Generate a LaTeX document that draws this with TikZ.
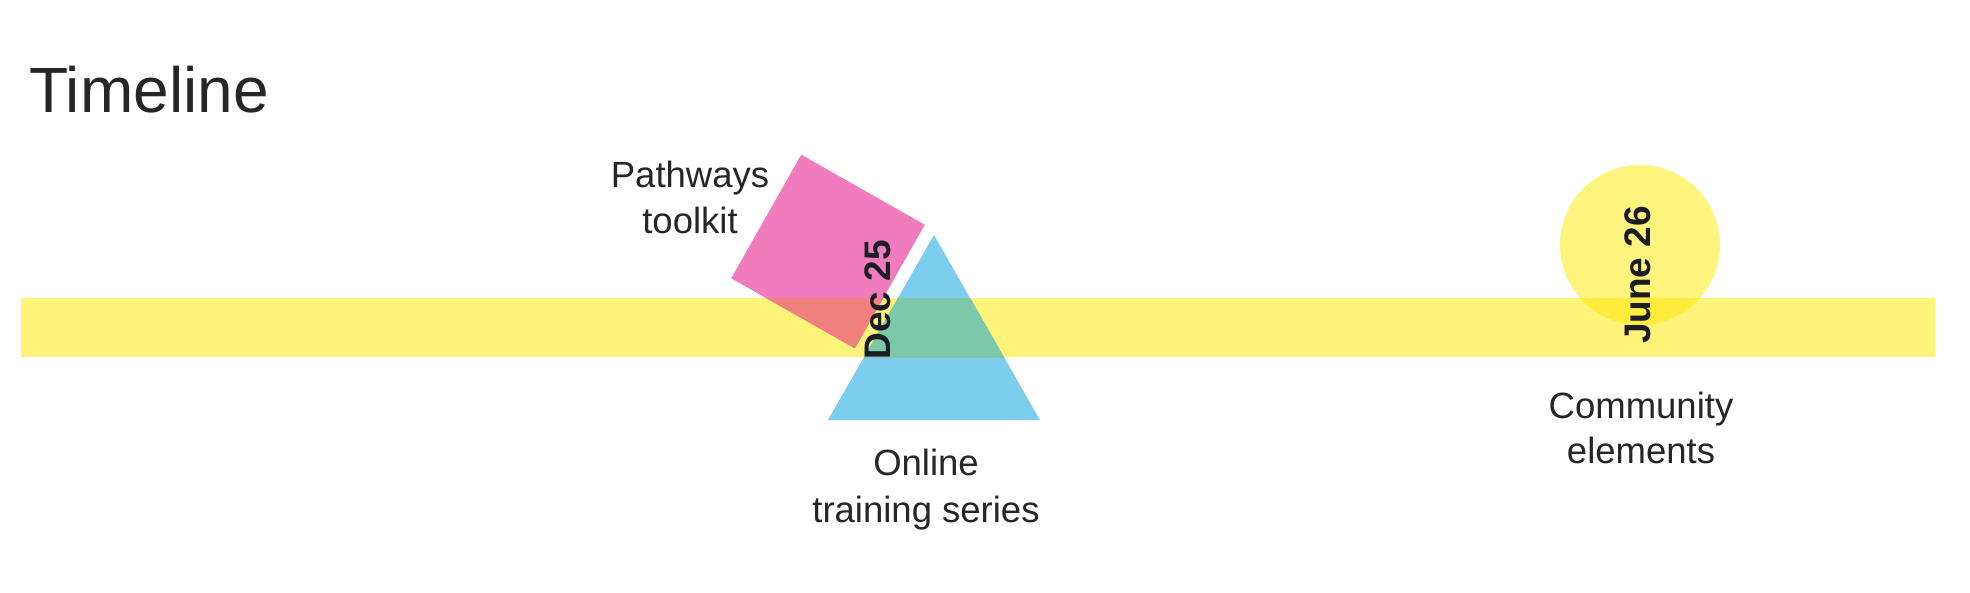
\documentclass[tikz,border=0pt]{standalone}
\usepackage{fontspec}
\setmainfont{Liberation Sans}
\definecolor{bandc}{HTML}{FFF37A}
\definecolor{pinkc}{HTML}{F07CBE}
\definecolor{salmonc}{HTML}{F0807C}
\definecolor{bluec}{HTML}{7CCDEE}
\definecolor{greenc}{HTML}{7CC8A8}
\definecolor{circlec}{HTML}{FFF47E}
\definecolor{deepyc}{HTML}{FFEC3C}
\definecolor{textc}{HTML}{262626}
\definecolor{datec}{HTML}{1C1C24}
\newcommand\twolines[3]{\vtop{\baselineskip=#1pt\lineskiplimit=-100pt\halign{\hfil##\hfil\cr#2\cr#3\cr}}}
\tikzset{
  lbl/.style={text=textc, font=\fontsize{36.5}{41}\selectfont, inner sep=0pt, anchor=base},
  datelbl/.style={text=datec, font=\fontsize{37}{40}\selectfont\bfseries, inner sep=0pt, rotate=90},
}
\begin{document}
\begin{tikzpicture}[x=1pt,y=-1pt]
\useasboundingbox (0,0) rectangle (1970,592);
\fill[white] (0,0) rectangle (1970,592);
% coordinates
\coordinate (bandNW) at (21,298);
\coordinate (bandSE) at (1935,357);
\coordinate (sqT) at (801.2,154.7);
\coordinate (sqR) at (924.8,224.7);
\coordinate (sqB) at (854.8,348.3);
\coordinate (sqL) at (731.2,278.3);
\coordinate (trA) at (934,235);
\coordinate (trL) at (828,420);
\coordinate (trR) at (1040,420);
\coordinate (circC) at (1640,245);
% band
\fill[bandc] (bandNW) rectangle (bandSE);
% shapes
\fill[pinkc] (sqT) -- (sqR) -- (sqB) -- (sqL) -- cycle;
\fill[bluec] (trA) -- (trR) -- (trL) -- cycle;
\fill[circlec] (circC) circle[radius=80pt];
% overlaps with band
\begin{scope}
\clip (bandNW) rectangle (bandSE);
\fill[salmonc] (sqT) -- (sqR) -- (sqB) -- (sqL) -- cycle;
\fill[greenc] (trA) -- (trR) -- (trL) -- cycle;
\fill[deepyc] (circC) circle[radius=80pt];
\end{scope}
% texts
\node[text=textc, font=\fontsize{64}{70}\selectfont, inner sep=0pt, anchor=base west] (title) at (29,112) {Timeline};
\node[lbl] (pathways) at (690,187) {\twolines{46}{Pathways}{toolkit}};
\node[lbl] (online) at (926,475) {\twolines{47}{Online}{training series}};
\node[lbl] (community) at (1641,418) {\twolines{45}{Community}{elements}};
\node[datelbl] (dec) at (877.5,300) {Dec 25};
\node[datelbl] (june) at (1638,275) {June 26};
\end{tikzpicture}
\end{document}
